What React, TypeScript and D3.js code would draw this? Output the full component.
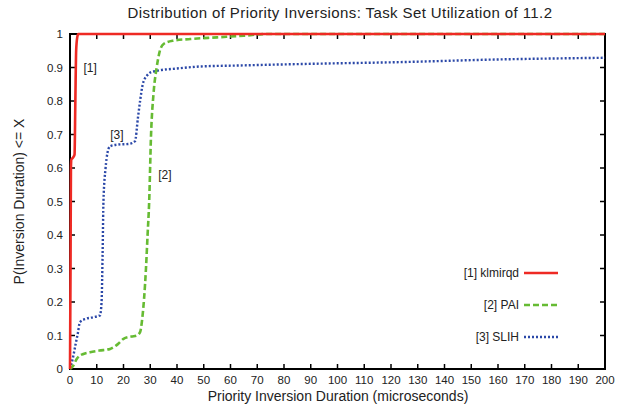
import React, { useEffect, useRef } from 'react';
import * as d3 from 'd3';

// values
const xTicks = [0, 10, 20, 30, 40, 50, 60, 70, 80, 90, 100, 110, 120, 130, 140, 150, 160, 170, 180, 190, 200];
const yTicks = [0, 0.1, 0.2, 0.3, 0.4, 0.5, 0.6, 0.7, 0.8, 0.9, 1];

const klmirqdX = [0, 0.2, 0.35, 0.5, 1, 1.7, 2.0, 2.3, 2.7, 3.1, 200];
const klmirqdY = [0, 0.3, 0.6, 0.625, 0.63, 0.64, 0.8, 0.95, 0.99, 1, 1];

const paiX = [0, 1.2, 2.5, 3.7, 5, 7.5, 11, 15, 18, 20, 23, 25, 26.2, 27, 28.4, 29, 29.6, 30.3, 31.2, 32.4, 33.6, 35, 38.5, 45, 55, 65, 74, 200];
const paiY = [0, 0.01, 0.03, 0.04, 0.045, 0.05, 0.055, 0.06, 0.075, 0.09, 0.097, 0.1, 0.11, 0.15, 0.3, 0.4, 0.5, 0.7, 0.82, 0.9, 0.95, 0.97, 0.98, 0.985, 0.99, 0.995, 1, 1];

const slihX = [0, 1, 2, 3, 3.7, 6, 9, 11.2, 11.8, 12.2, 12.5, 13.3, 14, 15, 18, 22, 24.3, 25.4, 26.2, 27.2, 28.7, 30, 32.4, 40, 48.6, 63, 90, 123, 160, 200];
const slihY = [0, 0.03, 0.07, 0.11, 0.14, 0.15, 0.155, 0.16, 0.2, 0.35, 0.5, 0.6, 0.645, 0.665, 0.67, 0.672, 0.68, 0.75, 0.8, 0.85, 0.875, 0.885, 0.89, 0.897, 0.903, 0.906, 0.911, 0.916, 0.924, 0.929];

const seriesNames = ['[1] klmirqd', '[2] PAI', '[3] SLIH'];
const seriesColors = ['#ee2a24', '#66bb33', '#2b48a8'];

const W = 619;
const H = 406;
const margin = { top: 34, right: 14, bottom: 37, left: 70 };
const font = 'Liberation Sans, Arial, Helvetica, sans-serif';

export default function App() {
  const ref = useRef<SVGSVGElement>(null);

  useEffect(() => {
    const svg = d3.select(ref.current);
    svg.selectAll('*').remove();

    const x = d3.scaleLinear().domain([0, 200]).range([margin.left, W - margin.right]);
    const y = d3.scaleLinear().domain([0, 1]).range([H - margin.bottom, margin.top]);

    const g = svg.append('g').attr('font-family', font).attr('fill', '#222');

    // title + axis labels
    g.append('text')
      .attr('x', 340)
      .attr('y', 18)
      .attr('text-anchor', 'middle')
      .attr('font-size', 15)
      .attr('letter-spacing', 0.4)
      .text('Distribution of Priority Inversions: Task Set Utilization of 11.2');

    g.append('text')
      .attr('x', 338)
      .attr('y', 401)
      .attr('text-anchor', 'middle')
      .attr('font-size', 14)
      .text('Priority Inversion Duration (microseconds)');

    g.append('text')
      .attr('transform', `translate(24, ${(y(0) + y(1)) / 2}) rotate(-90)`)
      .attr('text-anchor', 'middle')
      .attr('font-size', 14)
      .text('P(Inversion Duration) <= X');

    // ticks, all pointing inward, mirrored
    const tickLen = 5;
    const ticks = svg.append('g').attr('stroke', '#000').attr('stroke-width', 1.5);
    xTicks.forEach(t => {
      ticks.append('line').attr('x1', x(t)).attr('x2', x(t)).attr('y1', y(0)).attr('y2', y(0) - tickLen);
      ticks.append('line').attr('x1', x(t)).attr('x2', x(t)).attr('y1', y(1)).attr('y2', y(1) + tickLen);
      g.append('text')
        .attr('x', x(t))
        .attr('y', y(0) + 15)
        .attr('text-anchor', 'middle')
        .attr('font-size', 11.5)
        .text(t);
    });
    yTicks.forEach(t => {
      ticks.append('line').attr('x1', x(0)).attr('x2', x(0) + tickLen).attr('y1', y(t)).attr('y2', y(t));
      ticks.append('line').attr('x1', x(200)).attr('x2', x(200) - tickLen).attr('y1', y(t)).attr('y2', y(t));
      g.append('text')
        .attr('x', x(0) - 7)
        .attr('y', y(t) + 4)
        .attr('text-anchor', 'end')
        .attr('font-size', 11.5)
        .text(t);
    });

    // frame
    svg.append('rect')
      .attr('x', x(0))
      .attr('y', y(1))
      .attr('width', x(200) - x(0))
      .attr('height', y(0) - y(1))
      .attr('fill', 'none')
      .attr('stroke', '#000')
      .attr('stroke-width', 2);

    const line = d3.line<[number, number]>()
      .x(d => x(d[0]))
      .y(d => y(d[1]))
      .curve(d3.curveMonotoneX);

    const dashes = [null, '6,3', '2,2'];
    const widths = [2.6, 2.6, 2.4];
    const data = [
      d3.zip(klmirqdX, klmirqdY),
      d3.zip(paiX, paiY),
      d3.zip(slihX, slihY),
    ] as [number, number][][];

    // draw in reverse so red sits on top
    [2, 1, 0].forEach(i => {
      svg.append('path')
        .attr('d', line(data[i]))
        .attr('fill', 'none')
        .attr('stroke', seriesColors[i])
        .attr('stroke-width', widths[i])
        .attr('stroke-dasharray', dashes[i]);
    });

    // legend
    const legendY = [273, 305, 337];
    seriesNames.forEach((name, i) => {
      g.append('text')
        .attr('x', 519)
        .attr('y', legendY[i] + 4)
        .attr('text-anchor', 'end')
        .attr('font-size', 12)
        .text(name);
      svg.append('line')
        .attr('x1', 524)
        .attr('x2', 558)
        .attr('y1', legendY[i])
        .attr('y2', legendY[i])
        .attr('stroke', seriesColors[i])
        .attr('stroke-width', widths[i])
        .attr('stroke-dasharray', dashes[i]);
    });

    // curve labels
    const curveLabels = [
      { t: '[1]', v: [5, 0.9] },
      { t: '[2]', v: [33, 0.58] },
      { t: '[3]', v: [15, 0.7] },
    ];
    curveLabels.forEach(c => {
      g.append('text')
        .attr('x', x(c.v[0]))
        .attr('y', y(c.v[1]) + 4)
        .attr('font-size', 12)
        .text(c.t);
    });
  }, []);

  return (
    <svg
      ref={ref}
      width={W}
      height={H}
      style={{ position: 'absolute', left: 0, top: 0, background: '#fff' }}
    />
  );
}
